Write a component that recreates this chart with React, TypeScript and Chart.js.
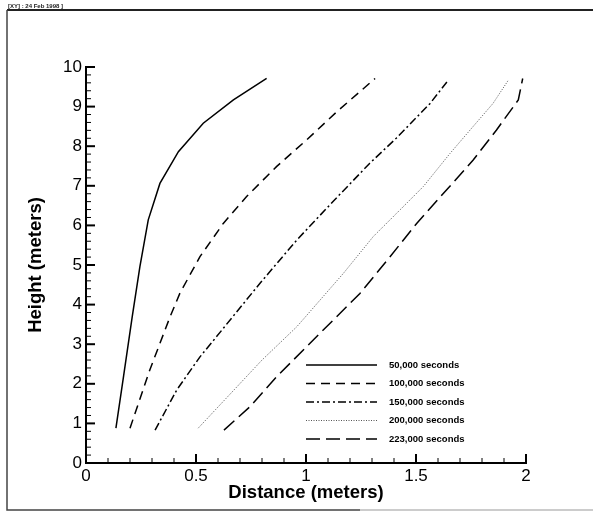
import React, { useEffect, useRef } from "react";
import { Chart, registerables } from "chart.js";

Chart.register(...registerables);

// ---- Data ----
const seriesLabels = [
  "50,000 seconds",
  "100,000 seconds",
  "150,000 seconds",
  "200,000 seconds",
  "223,000 seconds",
];

const s50kX = [0.136, 0.171, 0.21, 0.245, 0.283, 0.336, 0.42, 0.533, 0.67, 0.821];
const s50kY = [0.88, 2.2, 3.69, 4.96, 6.14, 7.06, 7.86, 8.58, 9.17, 9.71];

const s100kX = [0.2, 0.29, 0.382, 0.427, 0.518, 0.624, 0.73, 0.867, 1.003, 1.14, 1.314];
const s100kY = [0.88, 2.35, 3.69, 4.29, 5.21, 6.05, 6.73, 7.49, 8.16, 8.87, 9.71];

const s150kX = [0.314, 0.412, 0.518, 0.624, 0.791, 0.958, 1.124, 1.29, 1.41, 1.564, 1.647];
const s150kY = [0.83, 1.84, 2.68, 3.4, 4.54, 5.63, 6.61, 7.57, 8.2, 9.08, 9.67];

const s200kX = [0.51, 0.8, 0.958, 1.17, 1.306, 1.427, 1.533, 1.655, 1.76, 1.85, 1.92];
const s200kY = [0.88, 2.6, 3.44, 4.79, 5.72, 6.39, 6.98, 7.82, 8.5, 9.08, 9.67];

const s223kX = [0.627, 0.745, 0.867, 1.003, 1.124, 1.245, 1.382, 1.503, 1.625, 1.76, 1.866, 1.965, 1.985];
const s223kY = [0.83, 1.42, 2.18, 2.94, 3.61, 4.28, 5.21, 6.05, 6.81, 7.65, 8.41, 9.17, 9.71];

const xTickValues = [0, 0.5, 1, 1.5, 2];
const xTickLabels = ["0", "0.5", "1", "1.5", "2"];
const yTickValues = [0, 1, 2, 3, 4, 5, 6, 7, 8, 9, 10];

const xTitle = "Distance (meters)";
const yTitle = "Height (meters)";
const headerText = "[XY] : 24 Feb 1998 ]";

const toPoints = (xs: number[], ys: number[]) => xs.map((x, i) => ({ x, y: ys[i] }));

const FONT = "'Liberation Sans', Arial, Helvetica, sans-serif";
const TICK_FONT = "'Liberation Sans Narrow', 'Liberation Sans', Arial, sans-serif";

const decorPlugin = {
  id: "decor",
  beforeDraw(chart: any) {
    const ctx = chart.ctx;
    ctx.save();
    ctx.fillStyle = "#ffffff";
    ctx.fillRect(0, 0, chart.width, chart.height);
    // frame
    ctx.strokeStyle = "#222";
    ctx.lineWidth = 2;
    ctx.beginPath();
    ctx.moveTo(7, 10);
    ctx.lineTo(chart.width, 10);
    ctx.stroke();
    ctx.lineWidth = 1.5;
    ctx.strokeStyle = "#444";
    ctx.beginPath();
    ctx.moveTo(7, 10);
    ctx.lineTo(7, 510);
    ctx.lineTo(360, 510);
    ctx.stroke();
    ctx.strokeStyle = "#bbb";
    ctx.beginPath();
    ctx.moveTo(360, 510);
    ctx.lineTo(chart.width, 510);
    ctx.stroke();
    ctx.fillStyle = "#222";
    ctx.font = `bold 6px ${FONT}`;
    ctx.textBaseline = "alphabetic";
    ctx.textAlign = "left";
    ctx.fillText(headerText, 8, 8);
    ctx.restore();
  },
  afterDraw(chart: any) {
    const ctx = chart.ctx;
    const xs = chart.scales.x;
    const ys = chart.scales.y;
    const area = chart.chartArea;
    ctx.save();
    ctx.strokeStyle = "#000";
    // x ticks (inside, pointing up)
    for (let i = 0; i <= 20; i++) {
      const v = i / 10;
      const px = xs.getPixelForValue(v);
      const major = i % 5 === 0;
      ctx.lineWidth = major ? 2 : 1;
      ctx.beginPath();
      ctx.moveTo(px, area.bottom);
      ctx.lineTo(px, area.bottom - (major ? 9 : 5));
      ctx.stroke();
    }
    // y ticks (inside, pointing right)
    for (let i = 0; i <= 50; i++) {
      const v = i / 5;
      const py = ys.getPixelForValue(v);
      const major = i % 5 === 0;
      ctx.lineWidth = major ? 2 : 1;
      ctx.beginPath();
      ctx.moveTo(area.left, py);
      ctx.lineTo(area.left + (major ? 9 : 5), py);
      ctx.stroke();
    }
    // legend
    const lx0 = 306;
    const lx1 = 377;
    const tx = 389;
    const y0 = 365;
    const dy = 18.5;
    chart.data.datasets.forEach((ds: any, i: number) => {
      const y = y0 + i * dy;
      ctx.strokeStyle = ds.borderColor;
      ctx.lineWidth = ds.borderWidth;
      ctx.setLineDash(ds.borderDash || []);
      ctx.beginPath();
      ctx.moveTo(lx0, y);
      ctx.lineTo(lx1, y);
      ctx.stroke();
      ctx.setLineDash([]);
      ctx.fillStyle = "#000";
      ctx.font = `bold 9.5px ${FONT}`;
      ctx.textAlign = "left";
      ctx.textBaseline = "middle";
      ctx.fillText(ds.label, tx, y);
    });
    ctx.restore();
  },
};

export default function App() {
  const ref = useRef<HTMLCanvasElement | null>(null);

  useEffect(() => {
    if (!ref.current) return;
    const mk = (label: string, xs: number[], ys: number[], dash: number[], width: number, color: string) => ({
      label,
      data: toPoints(xs, ys),
      showLine: true,
      borderColor: color,
      backgroundColor: color,
      borderWidth: width,
      borderDash: dash,
      pointRadius: 0,
      tension: 0,
      fill: false,
    });
    const chart = new Chart(ref.current, {
      type: "scatter",
      data: {
        datasets: [
          mk(seriesLabels[0], s50kX, s50kY, [], 1.5, "#000"),
          mk(seriesLabels[1], s100kX, s100kY, [9, 6], 1.5, "#000"),
          mk(seriesLabels[2], s150kX, s150kY, [8, 3, 2, 3], 1.5, "#000"),
          mk(seriesLabels[3], s200kX, s200kY, [1, 1.5], 1, "#555"),
          mk(seriesLabels[4], s223kX, s223kY, [14, 6], 1.5, "#000"),
        ],
      },
      options: {
        responsive: false,
        animation: false,
        layout: { padding: { top: 67, right: 67, left: 0, bottom: 0 } },
        plugins: {
          legend: { display: false },
          tooltip: { enabled: false },
        },
        scales: {
          x: {
            type: "linear",
            min: 0,
            max: 2,
            afterBuildTicks: (s: any) => {
              s.ticks = xTickValues.map((v) => ({ value: v }));
            },
            afterFit: (s: any) => {
              s.height = 58;
            },
            grid: { display: false, drawTicks: false },
            border: { display: true, color: "#000", width: 2 },
            ticks: {
              color: "#000",
              padding: 3,
              font: { family: TICK_FONT, size: 17 },
              maxRotation: 0,
              callback: (v: any) => {
                const i = xTickValues.indexOf(Number(v));
                return i >= 0 ? xTickLabels[i] : "";
              },
            },
            title: {
              display: true,
              text: xTitle,
              color: "#000",
              font: { family: FONT, size: 18.5, weight: "bold" },
              padding: { top: 0, bottom: 16.5 },
            },
          },
          y: {
            type: "linear",
            min: 0,
            max: 10,
            afterBuildTicks: (s: any) => {
              s.ticks = yTickValues.map((v) => ({ value: v }));
            },
            afterFit: (s: any) => {
              s.width = 86;
            },
            grid: { display: false, drawTicks: false },
            border: { display: true, color: "#000", width: 2 },
            ticks: {
              color: "#000",
              padding: 4,
              font: { family: TICK_FONT, size: 17 },
            },
            title: {
              display: true,
              text: yTitle,
              color: "#000",
              font: { family: FONT, size: 18.5, weight: "bold" },
              padding: { top: 25, bottom: 0 },
            },
          },
        },
      },
      plugins: [decorPlugin],
    } as any);
    return () => chart.destroy();
  }, []);

  return (
    <div style={{ position: "absolute", left: 0, top: 0, width: 593, height: 521, background: "#fff" }}>
      <canvas ref={ref} width={593} height={521} style={{ display: "block" }} />
    </div>
  );
}
